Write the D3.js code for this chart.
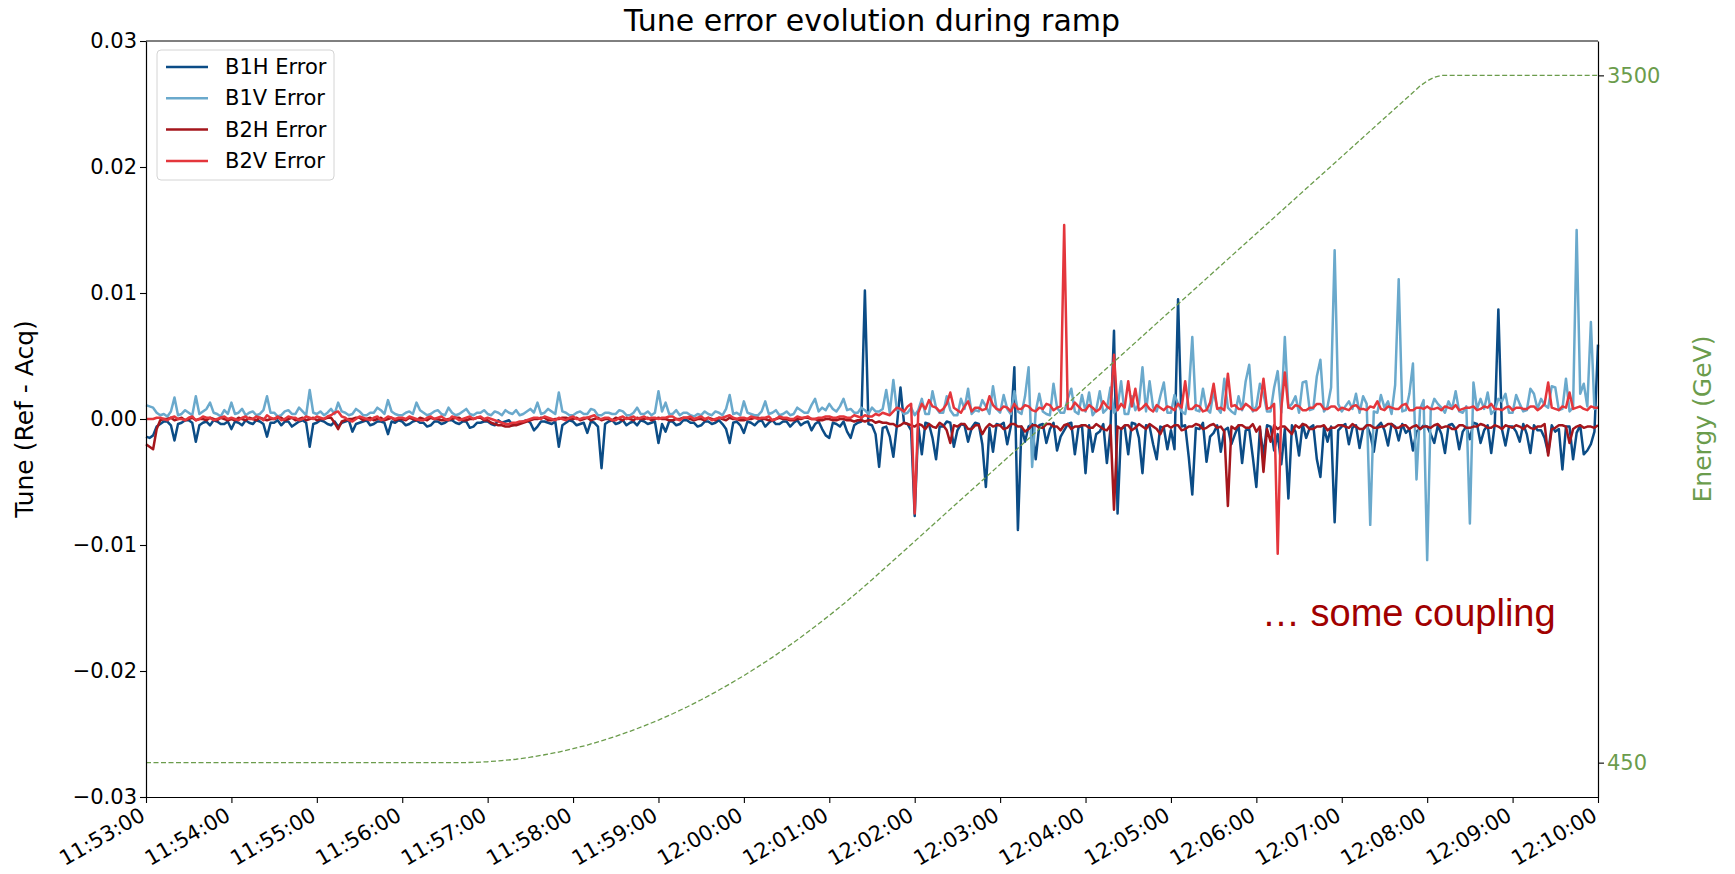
<!DOCTYPE html>
<html>
<head>
<meta charset="utf-8">
<script src="https://cdn.jsdelivr.net/npm/d3@7"></script>
<style>
  body { margin: 0; background: #fff; }
  text { font-family: "DejaVu Sans", sans-serif; }
</style>
</head>
<body>
<div class="content"></div>
<script>
// tune errors in units of 1e-4, one sample every 2.5 s from 11:53:00 (one row = one minute)
const sampleStart = "11:53:00";
const sampleStepMs = 2500;

const b1hErr = [
  -14, -15, -13, -6, -4, -2, -2, -5, -17, -4, -3, -1, -1, -3, -18, -5, -3, -2, -5, -1, -2, -4, -4, -2,
  -8, -2, -3, -5, -1, -3, -4, -1, -2, -4, -14, -3, -3, -1, -5, -2, -2, -6, -4, -2, -1, -3, -22, -4,
  -3, -1, -2, -4, -5, -2, -6, -3, -2, -1, -10, -4, -3, -2, -1, -5, -4, -2, -2, -3, -12, -2, -3, -1,
  -2, -5, -4, -2, -1, -3, -3, -6, -5, -2, -2, -4, -3, -1, -1, -3, -4, -2, -2, -7, -6, -3, -3, -2,
  -2, -4, -5, -1, -3, -2, -1, -5, -4, -3, -2, -1, -3, -9, -6, -2, -2, -3, -4, -2, -22, -5, -3, -1,
  -2, -5, -4, -3, -11, -2, -3, -6, -39, -4, -2, -1, -4, -3, -1, -5, -3, -2, -5, -1, -2, -4, -3, -2,
  -19, -4, -10, -2, -2, -5, -4, -1, -1, -3, -3, -6, -5, -2, -2, -4, -3, -1, -4, -8, -19, -3, -2, -5,
  -11, -2, -3, -5, -2, -1, -6, -3, -1, -4, -4, -2, -2, -6, -3, -1, -5, -3, -2, -9, -4, -2, -8, -13,
  -15, -3, -4, -6, -2, -10, -15, -5, -3, -2, 102, -4, -5, -12, -38, -7, -6, -14, -30, -5, 25, -3, -4, -9,
  -77, -5, -28, -3, -4, -15, -32, -6, -6, -2, -3, -22, -9, -4, -5, -18, -7, -3, -4, -20, -54, -7, -26, -4,
  -5, -3, -20, -6, 41, -88, -6, -18, -6, -4, -32, -5, -4, -19, -8, -3, -25, -14, -9, -4, -3, -28, -7, -5,
  -43, -5, -26, -12, -10, -4, -35, -8, 70, -75, -8, -6, -28, -3, -4, -15, -43, -5, -6, -20, -32, -6, -7, -24,
  -9, -24, 95, -6, -5, -30, -60, -7, -8, -3, -34, -14, -11, -5, -26, -9, -7, -20, -12, -5, -35, -9, -8, -30,
  -54, -8, -29, -5, -6, -25, -12, -36, -8, -63, -5, -10, -29, -4, -15, -7, -5, -32, -46, -7, -18, -6, -82, -9,
  -6, -4, -20, -7, -5, -23, -8, -5, -12, -26, -6, -3, -9, -21, -4, -6, -17, -4, -11, -8, -25, -10, -8, -5,
  -6, -12, -19, -5, -12, -27, -5, -4, -8, -24, -10, -6, -16, -3, -4, -19, -9, -5, -27, -4, 87, -8, -21, -6,
  -6, -10, -18, -4, -12, -27, -5, -9, -9, -15, -27, -5, -10, -8, -40, -6, -6, -32, -11, -5, -28, -25, -20, -10,
  59
];

const b1vErr = [
  11, 10, 9, 5, 3, 4, 2, 6, 17, 3, 4, 7, 5, 3, 18, 4, 6, 8, 13, 5, 4, 2, 7, 4,
  13, 4, 5, 8, 3, 5, 6, 3, 4, 7, 18, 5, 5, 2, 3, 6, 7, 4, 4, 9, 6, 3, 23, 5,
  4, 6, 3, 5, 8, 4, 13, 6, 5, 3, 4, 8, 6, 3, 3, 5, 5, 9, 7, 4, 15, 6, 4, 3,
  3, 5, 6, 4, 13, 7, 5, 3, 4, 6, 7, 4, 3, 9, 5, 3, 4, 6, 8, 4, 3, 5, 5, 7,
  4, 3, 6, 5, 3, 7, 5, 4, 7, 3, 4, 6, 8, 5, 13, 4, 5, 8, 6, 4, 21, 6, 5, 3,
  3, 5, 6, 4, 4, 8, 7, 3, 3, 5, 5, 4, 4, 7, 6, 3, 3, 5, 9, 4, 4, 6, 3, 5,
  22, 6, 13, 4, 4, 7, 3, 5, 5, 3, 2, 4, 3, 6, 4, 3, 6, 5, 3, 8, 19, 4, 5, 3,
  14, 5, 4, 3, 3, 6, 14, 4, 5, 7, 3, 4, 6, 3, 4, 9, 7, 5, 5, 11, 16, 6, 9, 7,
  12, 8, 6, 10, 16, 7, 8, 5, 5, 9, 7, 4, 9, 6, 6, 8, 23, 5, 31, 7, 8, 4, 5, 9,
  3, 7, 16, 4, 4, 22, 9, 5, 5, 18, 7, 3, 3, 16, 8, 24, 4, 7, 6, 15, 10, 4, 26, 8,
  5, 19, 8, 4, 22, 6, 4, 18, 41, -38, 6, 20, 6, 4, 3, 28, 9, 5, 5, 16, 24, 6, 4, 19,
  6, 21, 3, 7, 22, 5, 8, 25, 5, 9, 30, 4, 4, 18, 7, 12, 41, 6, 30, 9, 6, 18, 29, 5,
  5, 19, 12, 6, 4, 20, 65, 7, 6, 24, 8, 5, 22, 9, 5, 32, 9, 6, 4, 18, 7, 30, 43, 6,
  10, 28, 20, 6, 6, 25, 38, 5, 65, 9, 12, 18, 5, 29, 30, 7, 8, 34, 47, 6, 10, 25, 134, 12,
  6, 10, 14, 8, 20, 5, 18, 12, -84, 6, 5, 19, 9, 14, 4, 27, 111, 6, 7, 20, 44, -48, 8, 15,
  -112, 7, 16, 12, 9, 5, 14, 8, 22, 6, 5, 10, -83, 29, 8, 16, 8, 21, 4, 7, 16, 14, 20, 5,
  5, 19, 12, 6, 7, 24, 20, 8, 16, 11, 9, 26, 25, 7, 8, 32, 6, 9, 150, 20, 28, 10, 77, 8,
  10
];

const b2hErr = [
  -20, -22, -24, -8, -1, 0, 0, 1, -1, 0, 1, -1, 0, 1, -1, 0, 0, -1, 1, 0, -1, 1, 0, -1,
  0, -1, 1, 0, -1, 1, 0, -1, 1, 0, -1, 0, 0, 1, 1, -1, 0, 1, -1, 0, 1, -1, 0, 1,
  -1, 0, 0, 1, 1, -3, -8, -2, -1, 0, 0, 1, 1, -1, 0, 1, -1, 0, 1, -1, 0, 1, -1, 0,
  0, -1, 1, 0, -1, 1, 0, -1, 1, 0, 0, -1, -1, 0, 0, 1, 1, -1, -1, 0, 0, 1, 1, -1,
  -1, -3, -4, -5, -5, -6, -6, -5, -5, -4, -3, -2, -1, 0, 0, 1, 1, -1, -1, 0, 0, 1, 1, 0,
  0, 1, -1, 0, 1, -1, 0, 1, -1, 0, 0, -1, 1, 0, -1, 1, 0, -1, 1, 0, 0, 1, -1, 0,
  1, 0, 0, -1, -1, 0, 0, 1, 1, 0, -1, 0, 0, -1, 1, 0, -1, 1, 0, -1, 1, 0, 0, -1,
  -1, 0, 0, 1, 1, 0, 0, -1, -1, 0, 1, 0, 0, -1, -1, 0, 0, 1, 1, 0, 0, -1, -1, 0,
  0, -1, -1, 0, 0, -1, -1, -2, -1, -1, -2, -1, -1, -3, -2, -3, -3, -4, -4, -6, -5, -3, -4, -5,
  -6, -4, -5, -8, -4, -6, -7, -3, -5, -9, -19, -5, -6, -4, -4, -8, -8, -5, -5, -12, -7, -4, -6, -5,
  -5, -8, -7, -4, -4, -6, -6, -10, -8, -5, -5, -7, -7, -4, -4, -6, -6, -9, -5, -4, -8, -6, -6, -5,
  -5, -7, -7, -4, -6, -8, -9, -5, -72, -6, -8, -5, -5, -9, -7, -4, -6, -8, -4, -6, -8, -12, -6, -5,
  -7, -5, -5, -9, -8, -6, -6, -4, -5, -8, -7, -5, -4, -7, -6, -10, -69, -6, -8, -5, -5, -7, -7, -4,
  -10, -6, -42, -8, -18, -5, -8, -6, -6, -9, -12, -5, -7, -4, -5, -8, -8, -6, -6, -5, -9, -7, -7, -5,
  -5, -6, -7, -4, -6, -8, -8, -5, -5, -7, -7, -6, -6, -4, -4, -7, -7, -5, -5, -8, -6, -5, -8, -6,
  -6, -7, -5, -4, -7, -6, -6, -8, -8, -5, -5, -7, -7, -6, -6, -4, -5, -7, -7, -5, -6, -8, -5, -6,
  -7, -5, -6, -8, -5, -7, -8, -6, -6, -4, -29, -8, -7, -5, -5, -6, -19, -8, -6, -5, -7, -6, -6, -7,
  -5
];

const b2vErr = [
  0, 0, 0, 1, 1, 0, -1, 1, 2, 0, 0, -1, 1, 2, -1, 0, 2, 1, 1, -1, 0, 1, 2, 0,
  1, 0, -1, 1, 2, 0, 0, 2, 1, -1, 3, 1, 0, 2, -1, 0, 2, 1, 1, -1, 0, 2, 1, 0,
  2, 1, 0, 2, 3, 5, 6, 2, 1, -1, -2, 0, 2, 1, 0, -1, 1, 2, -1, 0, 2, 1, 0, 1,
  1, 0, 2, 1, 0, -1, -1, 1, 2, 0, 1, 2, 0, -1, 2, 1, -1, 0, 1, 2, 0, 1, 2, 0,
  1, 0, -1, -2, -3, -4, -4, -3, -3, -2, -2, -1, 0, 1, 1, 0, 2, 1, 0, -1, 1, 0, -1, 1,
  2, 0, 0, 1, 1, 2, 3, 0, 0, 1, 1, -1, -1, 1, 2, 0, 1, 2, 0, 1, 2, 0, 1, 1,
  0, 1, 1, 2, 2, 0, -1, 1, 1, 2, 0, 1, 2, 0, 1, -1, 0, 1, 1, 2, 3, 1, 0, 1,
  1, 0, 2, 1, 0, 1, 1, 2, -1, 0, 2, 1, 1, 0, 0, 2, 1, 1, 2, 0, 0, 1, 1, 2,
  2, 1, 1, 2, 2, 1, 1, 3, 2, 1, 3, 2, 2, 4, 3, 5, 4, 3, 6, 9, 8, 6, 10, 12,
  -75, 5, 12, 8, 15, 10, 9, 6, 8, 12, 21, 9, 7, 5, 10, 14, 6, 9, 9, 7, 8, 18, 11, 8,
  7, 10, 9, 6, 12, 8, 8, 11, 10, 7, 6, 9, 8, 12, 11, 7, 9, 10, 154, 8, 8, 13, 10, 7,
  7, 11, 9, 6, 8, 14, 10, 8, 51, 7, 12, 9, 30, 10, 24, 7, 9, 12, 8, 6, 11, 9, 7, 10,
  9, 7, 12, 9, 30, 8, 8, 11, 10, 6, 7, 13, 28, 8, 9, 7, 36, 10, 11, 8, 8, 12, 10, 7,
  7, 10, 32, 8, 9, 12, -107, 8, 37, 9, 8, 11, 10, 7, 7, 9, 9, 12, 12, 8, 8, 10, 10, 7,
  9, 8, 7, 10, 11, 8, 8, 7, 10, 9, 14, 8, 7, 10, 9, 8, 8, 11, 12, 7, 7, 9, 9, 8,
  10, 8, 8, 9, 7, 10, 9, 8, 11, 7, 8, 9, 9, 10, 7, 8, 10, 9, 12, 8, 8, 7, 9, 10,
  7, 9, 9, 8, 8, 10, 10, 7, 9, 12, 29, 9, 8, 7, 10, 9, 21, 8, 9, 10, 8, 7, 10, 9,
  9
];

// beam energy knots (GeV)
const energyTimes = [
  "11:53:00", "11:56:40", "11:56:50", "11:57:00", "11:57:10", "11:57:20",
  "11:57:30", "11:57:40", "11:57:50", "11:58:00", "11:58:10", "11:58:20",
  "11:58:30", "11:58:40", "11:58:50", "11:59:00", "11:59:10", "11:59:20",
  "11:59:30", "11:59:40", "11:59:50", "12:00:00", "12:00:10", "12:00:20",
  "12:00:30", "12:00:40", "12:00:50", "12:01:00", "12:01:10", "12:01:20",
  "12:01:30", "12:01:35", "12:07:50", "12:07:55", "12:08:00", "12:08:05",
  "12:08:10", "12:10:00"
];
const energyGeV = [
  450, 450, 451, 454, 459, 465,
  474, 485, 497, 512, 528, 547,
  567, 589, 613, 639, 667, 697,
  729, 763, 799, 836, 876, 917,
  961, 1006, 1054, 1103, 1154, 1207,
  1262, 1290, 3424, 3453, 3475, 3492,
  3500, 3500
];

const seriesNames = ["B1H Error", "B1V Error", "B2H Error", "B2V Error"];
const seriesColors = ["#0b4c86", "#6aa9cc", "#a5161c", "#e4363c"];

const xTickLabels = [
  "11:53:00", "11:54:00", "11:55:00", "11:56:00", "11:57:00", "11:58:00",
  "11:59:00", "12:00:00", "12:01:00", "12:02:00", "12:03:00", "12:04:00",
  "12:05:00", "12:06:00", "12:07:00", "12:08:00", "12:09:00", "12:10:00"
];
const yTicks = [0.03, 0.02, 0.01, 0, -0.01, -0.02, -0.03];
const yTickLabels = ["0.03", "0.02", "0.01", "0.00", "\u22120.01", "\u22120.02", "\u22120.03"];
const energyTicks = [450, 3500];

const greenCol = "#6b9c4c";
const margin = { top: 41, right: 137, bottom: 77, left: 146 };
const width = 1735 - margin.left - margin.right;
const height = 874 - margin.top - margin.bottom;

const parseTime = d3.timeParse("%H:%M:%S");
const t0 = parseTime(sampleStart);
const sampleTimes = b1hErr.map((d, i) => new Date(t0.getTime() + i * sampleStepMs));

const xScale = d3.scaleTime()
  .domain([parseTime("11:53:00"), parseTime("12:10:00")])
  .range([0, width]);
const yScale = d3.scaleLinear().domain([-0.03, 0.03]).range([height, 0]);
const eScale = d3.scaleLinear().domain([297.5, 3652.5]).range([height, 0]);

const svg = d3.select(".content")
  .append("svg")
  .attr("width", 1735)
  .attr("height", 874);

const g = svg.append("g")
  .attr("transform", `translate(${margin.left}, ${margin.top})`);

//--> tune error lines
const seriesData = [b1hErr, b1vErr, b2hErr, b2vErr];
const tuneLine = d3.line()
  .x((d, i) => xScale(sampleTimes[i]))
  .y(d => yScale(d * 1e-4));

seriesData.forEach((s, k) => {
  g.append("path")
    .datum(s)
    .attr("fill", "none")
    .attr("stroke", seriesColors[k])
    .attr("stroke-width", 2.5)
    .attr("stroke-linejoin", "round")
    .attr("d", tuneLine);
});

//--> energy (twin axis)
const energyLine = d3.line()
  .x((d, i) => xScale(parseTime(energyTimes[i])))
  .y(d => eScale(d));

g.append("path")
  .datum(energyGeV)
  .attr("fill", "none")
  .attr("stroke", greenCol)
  .attr("stroke-width", 1.3)
  .attr("stroke-dasharray", "5,2.5")
  .attr("d", energyLine);

//--> axes
const xAxis = d3.axisBottom(xScale)
  .tickValues(xTickLabels.map(parseTime))
  .tickFormat(d3.timeFormat("%H:%M:%S"))
  .tickSize(6)
  .tickSizeOuter(0);

const xg = g.append("g")
  .attr("transform", `translate(0, ${height})`)
  .call(xAxis);
xg.selectAll("text")
  .attr("y", 0)
  .attr("dy", null)
  .attr("dominant-baseline", "middle")
  .attr("text-anchor", "end")
  .attr("transform", "translate(-3, 17) rotate(-30)");

const yAxis = d3.axisLeft(yScale)
  .tickValues(yTicks)
  .tickFormat((d, i) => yTickLabels[i])
  .tickSize(6)
  .tickSizeOuter(0);
g.append("g").call(yAxis);

const eAxis = d3.axisRight(eScale)
  .tickValues(energyTicks)
  .tickFormat(d3.format("d"))
  .tickSize(6)
  .tickSizeOuter(0);
const eg = g.append("g")
  .attr("transform", `translate(${width}, 0)`)
  .call(eAxis);
eg.selectAll("text").attr("fill", greenCol);

// top spine
g.append("line")
  .attr("x1", 0).attr("x2", width)
  .attr("y1", 0).attr("y2", 0)
  .attr("stroke", "#000");

g.selectAll(".domain").attr("stroke", "#000").attr("stroke-width", 1.2);
g.selectAll(".tick line").attr("stroke", "#000").attr("stroke-width", 1.1);
g.selectAll(".tick text")
  .style("font-family", "'DejaVu Sans', sans-serif")
  .style("font-size", "21px");

//--> labels
g.append("text")
  .attr("x", width / 2)
  .attr("y", -10)
  .attr("text-anchor", "middle")
  .style("font-size", "30px")
  .text("Tune error evolution during ramp");

g.append("text")
  .attr("transform", "rotate(-90)")
  .attr("x", -height / 2)
  .attr("y", -113)
  .attr("text-anchor", "middle")
  .style("font-size", "25px")
  .text("Tune (Ref - Acq)");

g.append("text")
  .attr("transform", "rotate(-90)")
  .attr("x", -height / 2)
  .attr("y", width + 113)
  .attr("text-anchor", "middle")
  .attr("fill", greenCol)
  .style("font-size", "25px")
  .text("Energy (GeV)");

g.append("text")
  .attr("x", 1262 - margin.left)
  .attr("y", 626 - margin.top)
  .attr("fill", "#a10000")
  .style("font-family", "'Liberation Sans', Arial, sans-serif")
  .style("font-size", "38px")
  .text("\u2026 some coupling");

//--> legend
const legend = g.append("g")
  .attr("transform", "translate(11, 9)");

legend.append("rect")
  .attr("width", 177)
  .attr("height", 130)
  .attr("rx", 4)
  .attr("fill", "#fff")
  .attr("fill-opacity", 0.85)
  .attr("stroke", "#d4d4d4");

seriesNames.forEach((name, k) => {
  const ly = 17 + k * 31.3;
  legend.append("line")
    .attr("x1", 9).attr("x2", 51)
    .attr("y1", ly).attr("y2", ly)
    .attr("stroke", seriesColors[k])
    .attr("stroke-width", 2.5);
  legend.append("text")
    .attr("x", 68)
    .attr("y", ly)
    .attr("dominant-baseline", "central")
    .style("font-size", "21px")
    .text(name);
});
</script>
</body>
</html>
